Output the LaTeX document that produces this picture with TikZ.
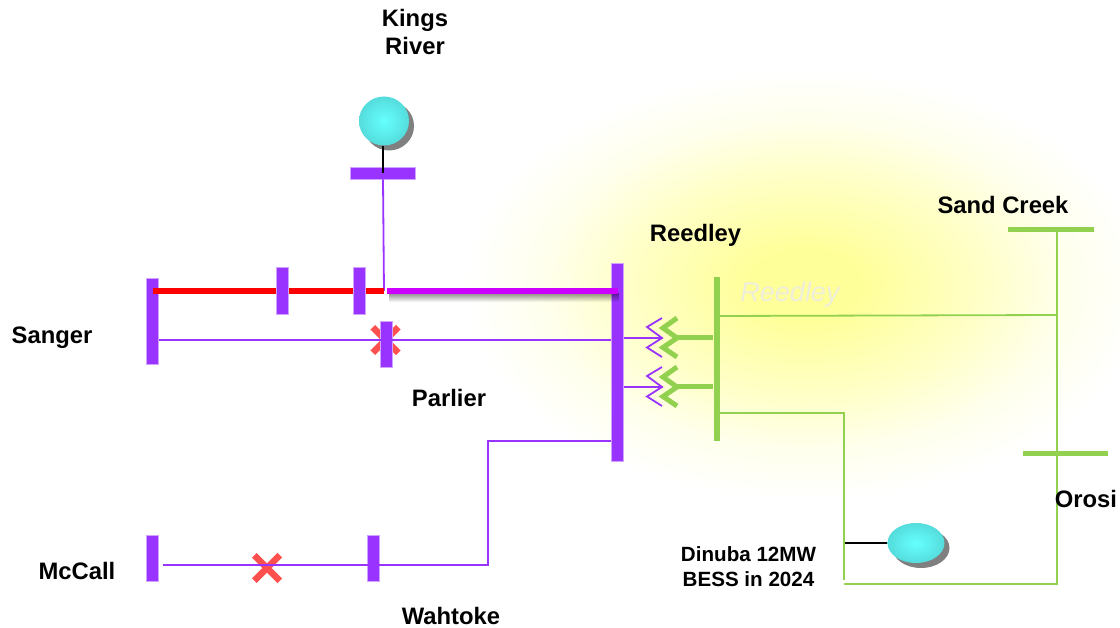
\documentclass[tikz,border=0pt]{standalone}
\usepackage{fontspec}
\setmainfont{Liberation Sans}
\usetikzlibrary{shapes.geometric,shapes.misc,shadows,fadings}
\definecolor{busviolet}{HTML}{9933FF}
\definecolor{busgreen}{HTML}{92D050}
\definecolor{linered}{HTML}{FF0000}
\definecolor{linemagenta}{HTML}{CC00FF}
\definecolor{crossred}{HTML}{FF5050}
\definecolor{ballcyan}{HTML}{66FFFF}
\definecolor{ballrim}{HTML}{55DCDC}
\definecolor{glowcore}{HTML}{FFFF99}
\definecolor{glowmid}{HTML}{FFFFC8}
\definecolor{glowpale}{HTML}{FFFFEC}
\definecolor{ghostgray}{HTML}{EFEDDC}
\pgfdeclareradialshading{reedleyglow}{\pgfpoint{0bp}{0bp}}{color(0bp)=(glowcore); color(4bp)=(glowcore); color(13bp)=(glowmid); color(19bp)=(glowpale); color(25bp)=(white); color(50bp)=(white)}
\tikzset{
    busbar/.style={fill=busviolet, draw=busviolet!45, line width=0.8pt, inner sep=0pt, minimum width=#1},
    greenbar/.style={fill=busgreen, inner sep=0pt, minimum width=#1},
    ball/.style={ellipse, inner sep=0pt, inner color=ballcyan, outer color=ballrim, drop shadow={shadow xshift=5pt, shadow yshift=-5pt, fill=black!50, opacity=1}},
    xmark/.style={cross out, draw=crossred, line width=6.5pt, inner sep=0pt, minimum size=19pt},
    thinviolet/.style={busviolet, line width=1.8pt},
    thingreen/.style={busgreen, line width=1.8pt},
    stub/.style={black, line width=1.8pt},
    label/.style={font=\fontsize{23.8}{28}\selectfont\bfseries, align=center, inner sep=0pt}
}
\begin{document}
\begin{tikzpicture}[x=1pt,y=-1pt]
    \useasboundingbox (0,0) rectangle (1120,628);
    % Yellow glow behind Reedley
    \shade[shading=reedleyglow] (805,285) ellipse (340 and 215);

    % Crosses sit under the buses
    \node[xmark] (xparlier) at (385.5,340) {};
    \node[xmark] (xmccall) at (267,568) {};

    % Violet buses
    \node[busbar=12pt, minimum height=86pt] (sanger) at (152.5,321) {};
    \node[busbar=12pt, minimum height=46pt] (parlier) at (386,344) {};
    \node[busbar=12pt, minimum height=198pt] (reedleyhi) at (617.5,362) {};
    \node[busbar=12pt, minimum height=46pt] (mccall) at (152.5,558) {};
    \node[busbar=12pt, minimum height=46pt] (wahtoke) at (373.5,558) {};
    \node[busbar=65pt, minimum height=12pt] (kingsbus) at (383,173) {};

    % Green buses
    \node[greenbar=6pt, minimum height=164pt] (reedleylo) at (716.5,359) {};
    \node[greenbar=86pt, minimum height=5pt] (sandcreek) at (1051,229.5) {};
    \node[greenbar=85pt, minimum height=5pt] (orosi) at (1065.5,453) {};

    % Generators
    \node[ball, minimum width=50pt, minimum height=49pt] (kingsgen) at (384,121) {};
    \node[ball, minimum width=57pt, minimum height=40pt] (dinubagen) at (916,543) {};
    \coordinate (dinubatap) at (845,543);
    \draw[stub] (kingsgen.south -| kingsbus) -- (kingsbus.center);
    \draw[stub] (dinubatap) -- (dinubagen.west);

    % Violet lines
    \coordinate (kingsdrop) at (384,291);
    \fill[black, opacity=0.45, path fading=south] (389,293) rectangle (619,302);
    \draw[thinviolet] (kingsbus.south) -- (kingsdrop);
    \draw[linered, line width=5.5pt] (sanger.center |- kingsdrop) -- (kingsdrop);
    \draw[linemagenta, line width=5.5pt] (387,291) -- (reedleyhi.center |- kingsdrop);
    \node[busbar=12pt, minimum height=47pt] (tapa) at (282.5,290.5) {};
    \node[busbar=12pt, minimum height=47pt] (tapb) at (359.5,290.5) {};
    \draw[thinviolet] (sanger.east |- xparlier) -- (reedleyhi.west |- xparlier);
    \coordinate (bendhi) at (488,441);
    \coordinate (bendlo) at (488,565);
    \draw[thinviolet] (reedleyhi.west |- bendhi) -- (bendhi) -- (bendlo) -- (163,565);

    % Transformers between the two Reedley buses
    \foreach \y in {338,387} {
        \draw[thinviolet] (reedleyhi.east |- 0,\y) -- (660,\y);
        \draw[busviolet, line width=1.8pt] (662,\y-20) -- (647,\y-11) -- (662,\y) -- (647,\y+9.5) -- (662,\y+19);
        \draw[busgreen, line width=5pt] (677,\y-20) -- (663,\y-10) -- (677,\y) -- (663,\y+9.5) -- (677,\y+19);
        \draw[busgreen, line width=5pt] (677,\y) -- (reedleylo.west |- 0,\y);
    }

    % Green lines
    \coordinate (sandtap) at (1057,315);
    \coordinate (dinubacorner) at (1057,584);
    \coordinate (feedtop) at (844,413);
    \coordinate (feedend) at (844,580);
    \coordinate (feedlow) at (844,584);
    \draw[thingreen] (reedleylo.east |- 0,316) -- (sandtap);
    \draw[thingreen] (sandcreek.south -| sandtap) -- (dinubacorner) -- (feedlow);
    \draw[thingreen] (feedend) -- (feedtop) -- (reedleylo.east |- feedtop);

    % Labels
    \node[label] (kingslabel) at (415,32) {Kings\\River};
    \node[label] (reedleylabel) at (695.5,235) {Reedley};
    \node[label] (sandlabel) at (1003,205) {Sand Creek};
    \node[label] (sangerlabel) at (52,338) {Sanger};
    \node[label] (parlierlabel) at (449,398) {Parlier};
    \node[label] (mccalllabel) at (77,571) {McCall};
    \node[label] (wahtokelabel) at (451,615.5) {Wahtoke};
    \node[label] (orosilabel) at (1086,499) {Orosi};
    \node[label, font=\fontsize{20.6}{25}\selectfont\bfseries] (dinubalabel) at (748.5,567) {Dinuba 12MW\\BESS in 2024};
    \node[ghostgray, inner sep=0pt, font=\fontsize{27}{30}\selectfont\itshape] (ghostlabel) at (790,295) {Reedley};
\end{tikzpicture}
\end{document}
